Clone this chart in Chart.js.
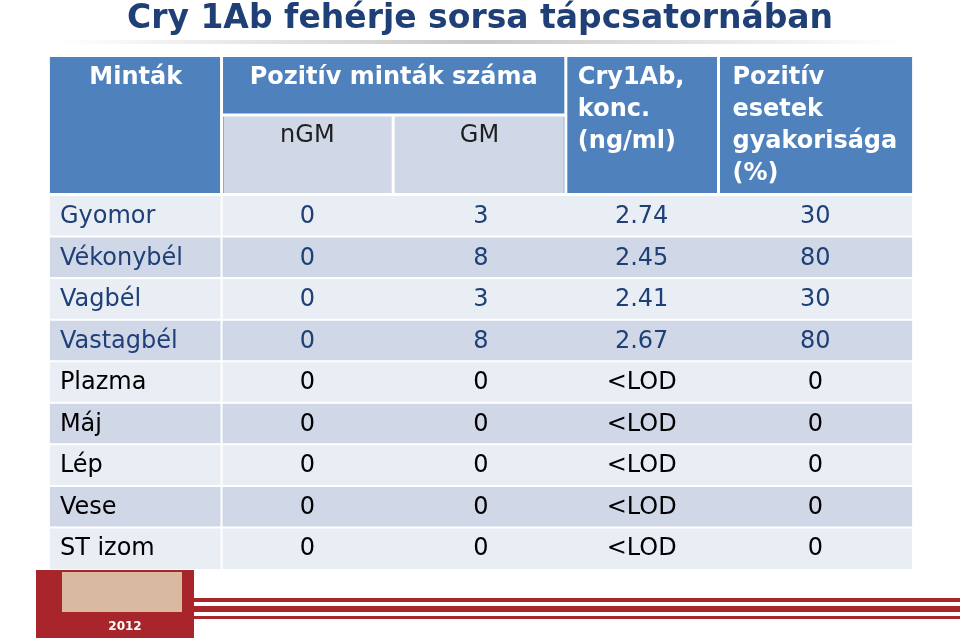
<!DOCTYPE html>
<html><head><meta charset="utf-8">
<script src="https://cdn.jsdelivr.net/npm/chart.js"></script>
<style>body{margin:0;background:#fff}canvas{display:block}</style>
</head><body><canvas id="c" width="960" height="641"></canvas>
<script>
const title = "Cry 1Ab fehérje sorsa tápcsatornában";
const rows = ["Gyomor","Vékonybél","Vagbél","Vastagbél","Plazma","Máj","Lép","Vese","ST izom"];
const nGM = ["0","0","0","0","0","0","0","0","0"];
const GM = ["3","8","3","8","0","0","0","0","0"];
const conc = ["2.74","2.45","2.41","2.67","<LOD","<LOD","<LOD","<LOD","<LOD"];
const freq = ["30","80","30","80","0","0","0","0","0"];

const colEdges = [0,172,344,517,670,864];
const F = "DejaVu Sans, Verdana, sans-serif";

const tablePlugin = {
  id:'table',
  beforeDraw(chart){
    const ctx = chart.ctx, xs = chart.scales.x, ys = chart.scales.y;
    const X = v => xs.getPixelForValue(v);
    const ca = chart.chartArea;
    ctx.save();
    ctx.fillStyle='#fff';ctx.fillRect(0,0,960,641);
    ctx.fillStyle='#1F3F77';ctx.font='bold 33px '+F;ctx.textAlign='center';ctx.textBaseline='middle';
    ctx.fillText(title,480,19);
    const g=ctx.createLinearGradient(60,0,900,0);
    g.addColorStop(0,'rgba(200,200,200,0)');g.addColorStop(0.5,'#c8c8c8');g.addColorStop(1,'rgba(200,200,200,0)');
    ctx.fillStyle=g;ctx.fillRect(60,40,840,4);
    const hTop=57, hMid=115, hBot=ca.top-2;
    ctx.fillStyle='#4F81BD';ctx.fillRect(X(0),hTop,X(864)-X(0),hBot-hTop);
    ctx.fillStyle='#D0D8E8';
    ctx.fillRect(X(172)+2,hMid,X(517)-X(172)-4,hBot-hMid);
    ctx.strokeStyle='#fff';ctx.lineWidth=3;
    ctx.beginPath();
    [172,517,670].forEach(v=>{ctx.moveTo(X(v),hTop);ctx.lineTo(X(v),hBot);});
    ctx.moveTo(X(344),hMid);ctx.lineTo(X(344),hBot);
    ctx.moveTo(X(172),hMid);ctx.lineTo(X(517),hMid);
    ctx.stroke();
    ctx.fillStyle='#fff';ctx.font='bold 24px '+F;ctx.textAlign='center';
    ctx.fillText("Minták",(X(0)+X(172))/2,78);
    ctx.fillText("Pozitív minták száma",(X(172)+X(517))/2,78);
    ctx.textAlign='left';
    ctx.fillText("Cry1Ab,",X(517)+12,78);
    ctx.fillText("konc.",X(517)+12,110);
    ctx.fillText("(ng/ml)",X(517)+12,142);
    ["Pozitív","esetek","gyakorisága","(%)"].forEach((t,i)=>ctx.fillText(t,X(670)+14,78+i*32));
    ctx.fillStyle='#1F1F1F';ctx.font='24px '+F;ctx.textAlign='center';
    ctx.fillText("nGM",(X(172)+X(344))/2,136);
    ctx.fillText("GM",(X(344)+X(517))/2,136);
    const h = ys.getPixelForValue(1)-ys.getPixelForValue(0);
    rows.forEach((r,i)=>{
      const cy=ys.getPixelForValue(i);
      ctx.fillStyle = i%2===0?'#E9EDF4':'#D0D8E8';
      ctx.fillRect(X(0),cy-h/2,X(864)-X(0),h);
      ctx.strokeStyle='#fff';ctx.lineWidth=2;
      ctx.beginPath();ctx.moveTo(X(0),cy-h/2);ctx.lineTo(X(864),cy-h/2);
      ctx.moveTo(X(172),cy-h/2);ctx.lineTo(X(172),cy+h/2);ctx.stroke();
      ctx.fillStyle= i<4?'#1F3F77':'#000';ctx.font='24px '+F;
      ctx.textAlign='left';ctx.fillText(r,X(0)+10,cy+1);
      ctx.textAlign='center';
      ctx.fillText(nGM[i],X(258),cy+1);
      ctx.fillText(GM[i],X(432),cy+1);
      ctx.fillText(conc[i],X(593),cy+1);
      ctx.fillText(freq[i],X(767),cy+1);
    });
    ctx.fillStyle='#A8252B';
    ctx.fillRect(190,598,770,4);ctx.fillRect(190,606,770,6);ctx.fillRect(190,616,770,3);
    ctx.fillStyle='#A8252B';ctx.fillRect(36,570,158,68);
    ctx.fillStyle='#d9b9a0';ctx.fillRect(62,572,120,40);
    ctx.fillStyle='#fff';ctx.font='bold 12px '+F;ctx.textAlign='center';ctx.fillText('2012',125,627);
    ctx.restore();
  }
};

new Chart(document.getElementById('c'),{
  type:'bar',
  data:{labels:rows,datasets:[{data:[]}]},
  options:{
    responsive:false,animation:false,devicePixelRatio:1,
    layout:{padding:{left:2,right:0,top:195,bottom:72}},
    plugins:{legend:{display:false},tooltip:{enabled:false}},
    scales:{
      x:{type:'linear',min:0,max:864,display:false},
      y:{type:'category',labels:rows,offset:true,display:false}
    }
  },
  plugins:[tablePlugin]
});
</script></body></html>
